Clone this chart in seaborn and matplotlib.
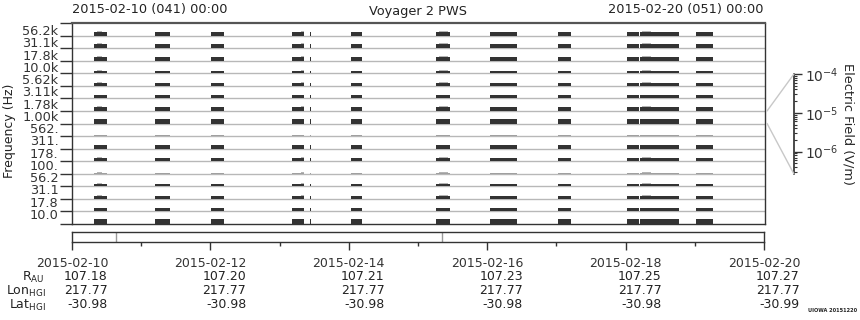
import numpy as np
import pandas as pd
import matplotlib
matplotlib.use("Agg")
import matplotlib.pyplot as plt
import matplotlib.transforms as mtransforms
from matplotlib.patches import ConnectionPatch
from matplotlib.ticker import FixedLocator, NullFormatter
import seaborn as sns

# ---------------- data ----------------
channels = ["56.2k", "31.1k", "17.8k", "10.0k", "5.62k", "3.11k", "1.78k", "1.00k",
            "562.", "311.", "178.", "100.", "56.2", "31.1", "17.8", "10.0"]
# observation intervals (days after 2015-02-10 00:00)
block_start = [0.32, 1.20, 2.01, 3.17, 3.43, 4.02, 5.25, 6.03, 7.01, 8.01, 8.195, 9.00]
block_end   = [0.51, 1.42, 2.20, 3.35, 3.445, 4.19, 5.45, 6.42, 7.20, 8.18, 8.76, 9.25]
# typical electric field per channel (V/m), top channel first
channel_level = [1.8e-6, 1.8e-6, 1.8e-6, 9.5e-7, 9.5e-7, 1.1e-6, 1.8e-6, 1.8e-6,
                 4.2e-7, 1.3e-6, 1.3e-6, 4.2e-7, 1.0e-6, 1.3e-6, 1.3e-6, 2.9e-6]
faint_channel = [False] * 8 + [True, False, False, True, False, False, False, False]
# short bursts above the background
burst_start = [0.36, 3.31, 5.30, 8.22]
burst_end   = [0.44, 3.35, 5.42, 8.36]
burst_level = [2.6e-6, 2.6e-6, 2.6e-6, 1.4e-6, 1.4e-6, 1.6e-6, 2.6e-6, 2.6e-6,
               5.2e-7, 1.8e-6, 1.7e-6, 5.2e-7, 1.5e-6, 1.5e-6, 1.5e-6, 3.4e-6]

# ephemeris
date_labels = ["2015-02-10", "2015-02-12", "2015-02-14", "2015-02-16", "2015-02-18", "2015-02-20"]
date_pos = [0, 2, 4, 6, 8, 10]
r_au = ["107.18", "107.20", "107.21", "107.23", "107.25", "107.27"]
lon_hgi = ["217.77", "217.77", "217.77", "217.77", "217.77", "217.77"]
lat_hgi = ["-30.98", "-30.98", "-30.98", "-30.98", "-30.98", "-30.99"]
marker_days = [0.64, 5.35]

E_LO, E_HI = 2.66e-7, 1.0e-4

# ---------------- style ----------------
sns.set_theme(style="ticks")
plt.rcParams["font.family"] = ["DejaVu Sans"]
plt.rcParams["font.size"] = 9
plt.rcParams["axes.edgecolor"] = "#333333"
plt.rcParams["xtick.color"] = "#333333"
plt.rcParams["ytick.color"] = "#333333"
plt.rcParams["text.color"] = "#222222"

W, H = 860, 320
fig = plt.figure(figsize=(W / 100, H / 100), dpi=100)


def fx(px):
    return px / W


def fy(py):
    return 1 - py / H


ax = fig.add_axes([fx(72), fy(224), fx(765 - 72), (224 - 23) / H])

dark = "#333333"
lite = "#b4b4b4"
faint = "#a0a0a0"
span = np.log10(E_HI) - np.log10(E_LO)


def frac(e):
    return (np.log10(e) - np.log10(E_LO)) / span


rows = []
for c, name in enumerate(channels):
    base = len(channels) - 1 - c
    for s, e in zip(block_start, block_end):
        rows.append(dict(channel=name, base=base, start=s, width=e - s,
                         h=frac(channel_level[c]), kind="faint" if faint_channel[c] else "dark"))
    for s, e in zip(burst_start, burst_end):
        rows.append(dict(channel=name, base=base, start=s, width=e - s,
                         h=frac(burst_level[c]), kind="burst"))
df = pd.DataFrame(rows)

for y in range(1, len(channels)):
    ax.axhline(y, color="#b8b8b8", lw=1.0, zorder=1)

order = {"burst": 2, "faint": 3, "dark": 3}
colors = {"burst": lite, "faint": faint, "dark": dark}
for kind in ["burst", "faint", "dark"]:
    d = df[df["kind"] == kind]
    ax.bar(d["start"], d["h"], width=d["width"], bottom=d["base"], align="edge",
           color=colors[kind], linewidth=0, zorder=order[kind])

ax.set_xlim(0, 10)
ax.set_ylim(0, len(channels))
ax.set_xticks([])
ax.yaxis.set_major_locator(FixedLocator(np.arange(0, len(channels) + 1)))
ax.yaxis.set_major_formatter(NullFormatter())
label_pos = np.linspace(15.44, 0.8, len(channels))
ax.yaxis.set_minor_locator(FixedLocator(label_pos))
ax.set_yticklabels(channels, minor=True)
ax.tick_params(axis="y", which="major", length=8.6, width=1, direction="out")
ax.tick_params(axis="y", which="minor", length=0, pad=9.7, labelsize=9.3)
for sp in ax.spines.values():
    sp.set_visible(True)
    sp.set_linewidth(1.0)
ax.spines["top"].set_linewidth(1.6)
ax.spines["top"].set_color("#555555")

fig.text(fx(10), fy(131), "Frequency (Hz)", rotation=90, ha="center", va="center", fontsize=9)

# titles
fig.text(fx(72), fy(9), "2015-02-10 (041) 00:00", ha="left", va="center", fontsize=9.3)
fig.text(fx(418), fy(11), "Voyager 2 PWS", ha="center", va="center", fontsize=9.3)
fig.text(fx(764), fy(9), "2015-02-20 (051) 00:00", ha="right", va="center", fontsize=9.3)

# ---------------- electric field scale ----------------
axs = fig.add_axes([fx(794), fy(174), 0.0001, (174 - 74) / H])
axs.set_yscale("log")
axs.set_ylim(E_LO, E_HI)
axs.set_xticks([])
for k in ["top", "bottom", "right"]:
    axs.spines[k].set_visible(False)
axs.spines["left"].set_visible(True)
axs.yaxis.set_ticks_position("right")
axs.tick_params(axis="y", which="major", direction="out", length=5.5, width=1, pad=2, labelsize=10)
axs.tick_params(axis="y", which="minor", direction="out", length=2.5, width=0.8)
axs.set_ylabel("Electric Field (V/m)", rotation=270, fontsize=9.3, labelpad=12)
axs.yaxis.set_label_position("right")

ref = channels.index("1.00k")
base = len(channels) - 1 - ref
for yA, yB in [(base + 1, E_HI), (base, E_LO)]:
    con = ConnectionPatch(xyA=(10.03, yA), coordsA=ax.transData,
                          xyB=(-0.5, yB), coordsB=axs.get_yaxis_transform(),
                          color="#c8c8c8", lw=1)
    fig.add_artist(con)

# ---------------- ephemeris panel ----------------
axe = fig.add_axes([fx(72), fy(242.3), fx(764 - 72), (242.3 - 231.7) / H])
axe.set_xlim(0, 10)
axe.set_yticks([])
for d in marker_days:
    axe.axvline(d, color="#999999", lw=1)
axe.set_xticks(date_pos)
axe.set_xticks([1, 3, 5, 7, 9], minor=True)
axe.set_xticklabels(date_labels, fontsize=9)
axe.tick_params(axis="x", which="major", length=6, width=1, direction="out", pad=4.5)
axe.tick_params(axis="x", which="minor", length=3, width=1, direction="out")
for sp in axe.spines.values():
    sp.set_visible(True)
    sp.set_linewidth(1.0)

# value rows, right-aligned with the right edge of the date label
blend = mtransforms.blended_transform_factory(axe.transData, fig.transFigure)
shift = mtransforms.ScaledTranslation(35.8 / 100, 0, fig.dpi_scale_trans)
for row_vals, py in [(r_au, 277), (lon_hgi, 291), (lat_hgi, 305)]:
    for x, v in zip(date_pos, row_vals):
        axe.text(x, fy(py), v, ha="right", va="center", fontsize=9,
                 transform=blend + shift, clip_on=False)

fig.text(fx(44), fy(277), r"R$_{\rm AU}$", ha="right", va="center", fontsize=9)
fig.text(fx(46), fy(291), r"Lon$_{\rm HGI}$", ha="right", va="center", fontsize=9)
fig.text(fx(46), fy(305), r"Lat$_{\rm HGI}$", ha="right", va="center", fontsize=9)

fig.text(fx(857), fy(310), "UIOWA 20151220", ha="right", va="center", fontsize=3.6, fontweight="bold")

fig.savefig("out.png", dpi=100)
